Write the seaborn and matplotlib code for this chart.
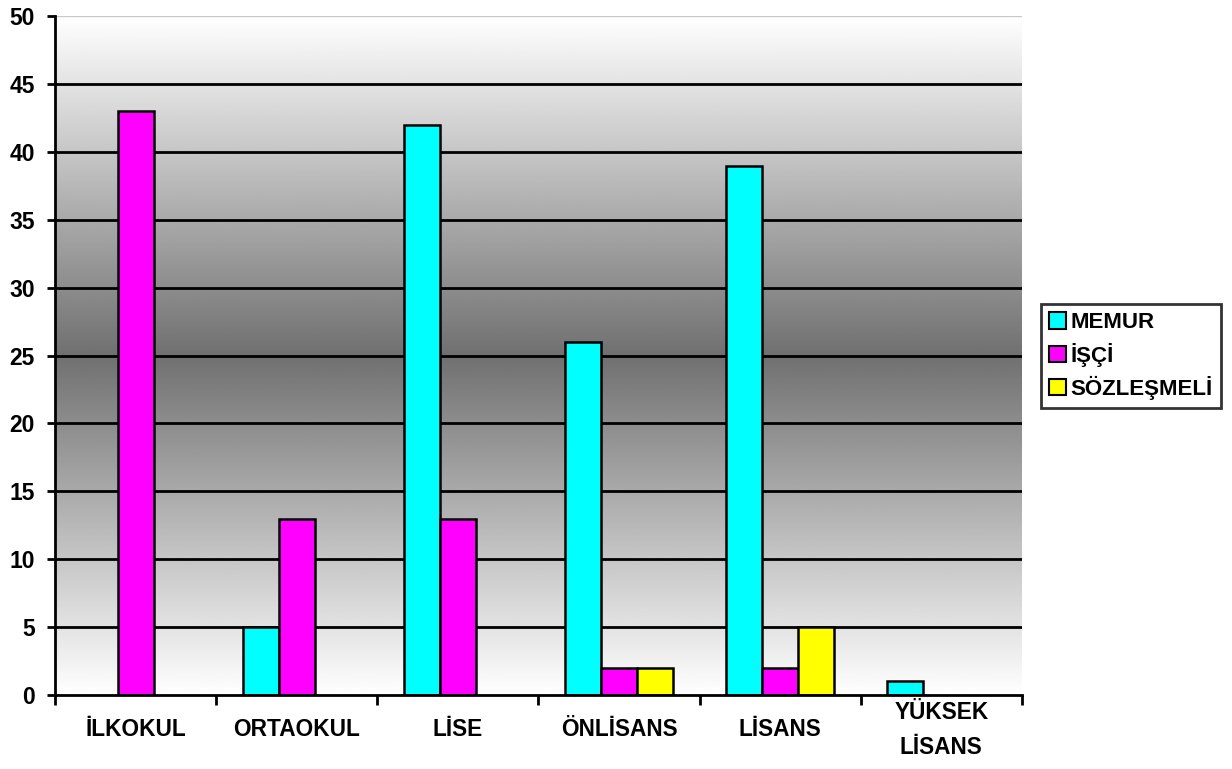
import numpy as np
import pandas as pd
import matplotlib
matplotlib.use('Agg')
import matplotlib.pyplot as plt
import seaborn as sns
from matplotlib.patches import Patch

# --- Data ---
categories = ['İLKOKUL', 'ORTAOKUL', 'LİSE', 'ÖNLİSANS', 'LİSANS', 'YÜKSEK\nLİSANS']
series = ['MEMUR', 'İŞÇİ', 'SÖZLEŞMELİ']
memur = [0, 5, 42, 26, 39, 1]
isci = [43, 13, 13, 2, 2, 0]
sozlesmeli = [0, 0, 0, 2, 5, 0]
colors = ['#00FFFF', '#FF00FF', '#FFFF00']

df = pd.DataFrame({
    'kategori': categories * 3,
    'seri': [s for s in series for _ in categories],
    'deger': memur + isci + sozlesmeli,
})

sns.set_theme(style='white')
plt.rcParams['font.family'] = ['Liberation Sans', 'DejaVu Sans']
plt.rcParams['font.weight'] = 'bold'

fig = plt.figure(figsize=(12.32, 7.69), dpi=100)
ax = fig.add_axes([0.0446, 0.0962, 0.7849, 0.8828])

# gradient background: white at top/bottom, dark gray in the middle
t = np.linspace(0, 1, 400)
shade = 1 - 0.56 * (1 - np.abs(2 * t - 1))
grad = np.repeat(shade[:, None], 2, axis=1)
ax.imshow(grad, cmap='gray', vmin=0, vmax=1, aspect='auto',
          extent=[-0.5, 5.5, 0, 50], origin='lower', zorder=0)

sns.barplot(data=df, x='kategori', y='deger', hue='seri', palette=colors,
            saturation=1, width=0.67, edgecolor='black', linewidth=1.8, ax=ax,
            legend=False, zorder=3)

for p in ax.patches:
    if p.get_height() == 0:
        p.set_visible(False)

ax.set_xlim(-0.5, 5.5)
ax.set_ylim(0, 50)
ax.set_yticks(range(0, 51, 5))
for y in range(5, 50, 5):
    ax.axhline(y, color='black', linewidth=2, zorder=2)
ax.axhline(50, color='#c8c8c8', linewidth=1, zorder=2)

ax.set_xlabel('')
ax.set_ylabel('')
ax.tick_params(axis='y', left=True, length=6, width=2, direction='out',
               labelsize=16.5, pad=8.5, color='black')
ax.tick_params(axis='x', bottom=False, length=0, labelsize=16.3, pad=25)
ax.set_xticks(np.arange(-0.5, 6, 1), minor=True)
ax.tick_params(axis='x', which='minor', bottom=True, length=7, width=2, color='black')
for lab in ax.get_xticklabels() + ax.get_yticklabels():
    lab.set_fontweight('bold')
    lab.set_color('black')
for lab in ax.get_xticklabels():
    lab.set_verticalalignment('center')
    lab.set_linespacing(1.65)

for side in ['top', 'right']:
    ax.spines[side].set_visible(False)
for side in ['left', 'bottom']:
    ax.spines[side].set_color('black')
    ax.spines[side].set_linewidth(2)
    ax.spines[side].set_zorder(4)

handles = [Patch(facecolor=c, edgecolor='black', linewidth=1.5, label=s)
           for c, s in zip(colors, series)]
leg = fig.legend(handles=handles, loc='center left', bbox_to_anchor=(0.841, 0.537),
                 frameon=True, fancybox=False, edgecolor='black', fontsize=16,
                 handlelength=0.75, handleheight=0.75, handletextpad=0.2,
                 labelspacing=0.42, borderpad=0.38, borderaxespad=0.2)
leg.get_frame().set_linewidth(2)
for txt in leg.get_texts():
    txt.set_fontweight('bold')
    txt.set_color('black')

fig.savefig('out.png', dpi=100)
